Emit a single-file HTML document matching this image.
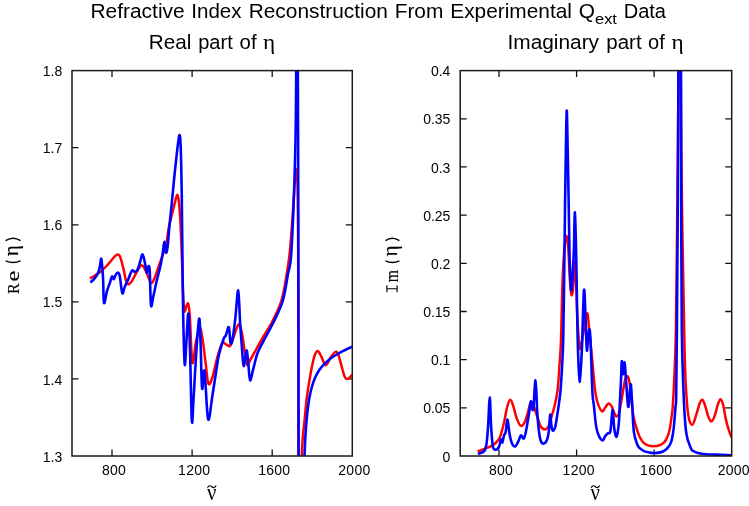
<!DOCTYPE html>
<html><head><meta charset="utf-8"><style>
html,body{margin:0;padding:0;background:#fff;}
svg{display:block;}
svg{will-change:transform;}
</style></head><body>
<svg width="749" height="506" viewBox="0 0 749 506">
<defs><clipPath id="cl"><rect x="72.0" y="70.6" width="280.3" height="385.4"/></clipPath>
<clipPath id="cr"><rect x="460.2" y="70.6" width="271.5" height="385.4"/></clipPath></defs>
<path d="M112.0,456.0v-6.5M112.0,70.6v6.5M499.0,456.0v-6.5M499.0,70.6v6.5M192.1,456.0v-6.5M192.1,70.6v6.5M576.6,456.0v-6.5M576.6,70.6v6.5M272.2,456.0v-6.5M272.2,70.6v6.5M654.1,456.0v-6.5M654.1,70.6v6.5M72.0,378.9h6.5M352.3,378.9h-6.5M72.0,301.8h6.5M352.3,301.8h-6.5M72.0,224.8h6.5M352.3,224.8h-6.5M72.0,147.7h6.5M352.3,147.7h-6.5M460.2,407.8h6.5M731.7,407.8h-6.5M460.2,359.6h6.5M731.7,359.6h-6.5M460.2,311.5h6.5M731.7,311.5h-6.5M460.2,263.3h6.5M731.7,263.3h-6.5M460.2,215.1h6.5M731.7,215.1h-6.5M460.2,166.9h6.5M731.7,166.9h-6.5M460.2,118.8h6.5M731.7,118.8h-6.5" stroke="#111" stroke-width="1.3" fill="none"/>
<g clip-path="url(#cl)" fill="none" stroke-linejoin="round" stroke-linecap="butt">
<path d="M89.9,278.4 C90.8,277.9 93.3,276.5 95.3,275.2 C97.3,273.9 99.6,272.5 101.7,270.7 C103.8,268.9 105.9,266.6 108.1,264.3 C110.2,262.0 113.0,258.2 114.6,256.6 C116.2,255.0 116.8,254.5 117.8,254.6 C118.8,254.7 119.3,254.7 120.3,257.2 C121.3,259.7 122.6,265.4 123.6,269.4 C124.6,273.4 125.2,278.5 126.1,281.0 C126.9,283.5 127.7,284.2 128.7,284.2 C129.7,284.2 130.8,282.5 131.9,281.0 C133.0,279.5 133.8,277.5 135.0,275.3 C136.2,273.1 138.1,269.5 139.2,267.8 C140.3,266.1 140.8,265.3 141.7,265.3 C142.5,265.3 143.3,266.1 144.3,267.8 C145.3,269.5 146.5,272.8 147.6,275.3 C148.7,277.8 149.9,282.3 151.0,282.9 C152.1,283.5 153.1,281.3 154.3,278.7 C155.6,276.1 157.1,270.9 158.5,267.0 C159.9,263.1 161.4,258.8 162.7,255.2 C164.0,251.5 165.1,249.5 166.1,245.1 C167.1,240.7 167.6,233.8 168.5,229.0 C169.4,224.2 170.4,220.3 171.5,216.0 C172.6,211.7 173.9,206.5 174.8,203.0 C175.7,199.5 176.4,195.1 177.1,194.8 C177.8,194.5 178.4,198.1 178.8,201.0 C179.2,203.9 179.4,206.3 179.8,212.0 C180.2,217.7 180.6,225.3 181.0,235.0 C181.4,244.7 181.9,259.2 182.3,270.0 C182.7,280.8 183.0,293.1 183.4,300.0 C183.8,306.9 184.1,310.5 184.6,311.5 C185.1,312.5 185.9,307.3 186.5,306.0 C187.1,304.7 187.6,302.2 188.2,303.8 C188.8,305.4 189.1,305.9 189.8,315.7 C190.5,325.5 191.3,357.8 192.3,362.4 C193.3,367.0 194.5,349.1 195.7,343.3 C196.9,337.5 198.4,328.1 199.6,327.5 C200.8,326.9 201.6,333.6 202.6,339.4 C203.6,345.1 204.5,354.6 205.5,362.0 C206.5,369.4 207.2,381.2 208.4,383.7 C209.6,386.2 211.0,381.4 212.5,377.0 C214.0,372.6 215.8,362.6 217.4,357.0 C219.0,351.4 220.8,345.3 222.3,343.3 C223.8,341.3 225.3,344.4 226.6,344.8 C227.9,345.2 228.8,347.0 229.9,346.0 C231.0,345.0 231.9,341.8 233.0,338.9 C234.1,335.9 235.5,330.7 236.6,328.3 C237.7,325.9 238.6,323.3 239.6,324.7 C240.6,326.1 241.6,331.8 242.5,336.5 C243.4,341.2 244.1,348.4 244.9,353.1 C245.7,357.8 246.2,363.9 247.2,364.9 C248.2,365.9 249.4,361.4 250.8,359.0 C252.2,356.6 254.0,353.4 255.5,350.7 C257.0,347.9 258.6,344.9 260.0,342.5 C261.4,340.1 261.6,339.6 263.7,336.0 C265.8,332.4 269.6,326.9 272.6,321.0 C275.6,315.1 279.1,308.3 281.5,300.4 C283.9,292.5 285.4,282.1 286.8,273.7 C288.2,265.3 289.0,260.6 290.0,250.0 C291.0,239.4 292.2,221.7 293.0,210.0 C293.8,198.3 294.4,186.8 295.0,180.0 C295.6,173.2 295.9,168.3 296.3,169.1 C296.7,169.9 297.2,169.8 297.5,185.0 C297.8,200.2 298.0,212.5 298.2,260.0 C298.4,307.5 298.4,435.0 298.5,470.0" stroke="#f00" stroke-width="2.5"/>
<path d="M301.3,470.0 C301.4,468.0 301.4,463.4 301.6,458.0 C301.9,452.6 302.3,444.1 302.8,437.4 C303.3,430.7 304.2,424.4 304.8,418.0 C305.4,411.6 305.9,405.1 306.7,398.7 C307.5,392.3 308.6,385.2 309.6,379.4 C310.6,373.6 311.6,368.0 312.5,363.9 C313.4,359.8 314.1,356.6 315.0,354.5 C315.9,352.4 316.7,350.6 317.8,351.0 C318.9,351.4 320.1,354.3 321.4,356.7 C322.7,359.1 324.2,365.2 325.8,365.2 C327.4,365.2 329.3,358.9 331.1,356.7 C332.9,354.4 335.0,351.1 336.5,351.7 C338.0,352.3 338.7,356.2 340.0,360.3 C341.3,364.4 343.2,373.2 344.5,376.3 C345.8,379.4 346.5,379.1 347.7,379.0 C348.9,378.9 350.6,376.2 351.6,375.4 C352.7,374.6 353.6,374.2 354.0,374.0" stroke="#f00" stroke-width="2.5"/>
<path d="M90.4,282.5 C91.0,281.9 92.8,280.6 94.0,279.1 C95.2,277.6 96.9,275.3 97.9,273.3 C98.9,271.3 99.2,269.3 99.8,266.9 C100.4,264.5 100.8,257.2 101.3,258.9 C101.8,260.6 102.5,269.8 103.0,277.1 C103.5,284.4 103.3,300.4 104.0,302.8 C104.7,305.2 105.9,294.7 106.9,291.3 C107.9,287.9 109.2,284.8 110.1,282.3 C110.9,279.8 111.4,277.0 112.0,276.5 C112.6,276.0 113.3,279.4 113.9,279.1 C114.5,278.8 115.1,275.7 115.8,274.6 C116.5,273.5 117.5,272.4 118.2,272.6 C118.9,272.8 119.0,272.4 119.7,275.8 C120.4,279.2 121.5,291.4 122.3,293.2 C123.1,295.0 123.7,289.3 124.8,286.8 C125.9,284.3 127.7,280.6 128.7,278.4 C129.6,276.2 129.9,274.9 130.5,273.5 C131.1,272.1 131.8,270.6 132.5,270.3 C133.2,270.1 134.2,272.1 135.0,272.0 C135.8,271.9 136.8,271.2 137.6,269.5 C138.4,267.8 139.3,264.4 140.1,261.9 C140.9,259.4 141.8,254.1 142.6,254.4 C143.4,254.7 144.4,260.5 145.1,263.6 C145.8,266.7 146.2,272.4 146.8,272.8 C147.4,273.2 148.0,266.2 148.5,266.1 C149.0,266.0 149.4,265.4 149.8,272.0 C150.2,278.6 150.4,301.6 151.0,305.5 C151.6,309.4 152.5,299.7 153.5,295.5 C154.5,291.3 155.7,285.1 156.8,280.4 C157.9,275.6 159.2,271.5 160.2,267.0 C161.2,262.5 162.0,257.7 162.7,253.5 C163.4,249.3 163.8,241.9 164.4,241.8 C165.0,241.7 165.5,252.1 166.1,252.7 C166.7,253.2 167.3,249.0 167.8,245.1 C168.3,241.2 168.4,236.7 169.1,229.3 C169.8,222.0 171.0,211.1 172.0,201.0 C173.0,190.9 174.0,179.3 175.2,168.5 C176.4,157.7 178.2,139.9 179.1,136.3 C180.0,132.7 180.3,137.7 180.7,146.7 C181.1,155.7 181.4,175.5 181.7,190.2 C181.9,204.9 182.0,218.4 182.2,235.0 C182.4,251.6 182.6,274.2 182.8,290.0 C183.0,305.8 183.2,317.5 183.5,330.0 C183.8,342.5 184.3,363.3 184.8,365.0 C185.3,366.7 185.9,348.6 186.5,340.0 C187.1,331.4 187.8,312.0 188.4,313.7 C189.0,315.4 189.4,332.1 190.0,350.0 C190.6,367.9 191.2,412.5 191.8,420.8 C192.4,429.1 192.8,410.1 193.5,400.0 C194.2,389.9 194.9,373.5 195.8,360.0 C196.7,346.5 198.2,322.5 199.0,319.2 C199.8,315.9 200.0,328.5 200.5,340.0 C201.0,351.5 201.4,383.2 202.1,388.4 C202.8,393.6 203.5,365.9 204.5,371.0 C205.5,376.1 206.8,415.2 208.1,419.2 C209.4,423.2 210.9,404.9 212.5,395.0 C214.1,385.1 216.7,367.4 217.9,360.0 C219.2,352.6 219.1,354.2 220.0,350.7 C220.9,347.2 222.6,341.4 223.6,338.9 C224.6,336.3 225.0,337.4 225.9,335.4 C226.8,333.4 228.0,325.7 228.8,327.1 C229.6,328.5 230.0,342.0 230.7,343.6 C231.4,345.2 232.2,340.8 233.0,336.5 C233.8,332.2 234.5,325.3 235.4,317.6 C236.3,309.9 237.4,289.6 238.2,290.4 C239.0,291.2 239.5,313.0 240.1,322.3 C240.7,331.6 241.2,338.7 241.8,346.0 C242.4,353.3 242.9,365.4 243.7,366.1 C244.5,366.8 245.7,350.5 246.5,350.3 C247.3,350.1 247.8,359.9 248.4,364.9 C249.0,369.9 249.3,379.5 250.1,380.3 C250.9,381.1 252.0,373.8 253.1,369.7 C254.2,365.6 255.6,359.0 256.7,355.5 C257.8,352.0 258.0,351.8 259.6,348.5 C261.2,345.2 263.5,341.1 266.2,336.0 C268.9,330.9 272.8,324.0 275.6,318.0 C278.4,312.0 280.9,307.4 283.0,300.0 C285.1,292.6 286.6,282.0 288.0,273.7 C289.4,265.4 290.3,270.6 291.5,250.0 C292.7,229.4 294.5,181.7 295.3,150.0 C296.1,118.3 296.1,75.0 296.3,60.0" stroke="#00f" stroke-width="2.6"/>
<path d="M297.8,60.0 C297.9,83.3 298.2,131.7 298.3,200.0 C298.4,268.3 298.6,425.0 298.6,470.0" stroke="#00f" stroke-width="2.6"/>
<path d="M304.0,469.8 C304.1,467.4 304.3,459.8 304.5,455.5 C304.7,451.2 304.8,448.1 305.0,444.2 C305.2,440.3 305.4,435.7 305.7,431.9 C305.9,428.1 306.2,424.7 306.5,421.2 C306.8,417.7 307.1,414.3 307.5,411.1 C307.9,407.9 308.3,404.7 308.7,402.0 C309.1,399.3 309.5,397.0 310.0,394.7 C310.5,392.4 311.0,390.2 311.5,388.2 C312.0,386.2 312.6,384.4 313.2,382.6 C313.8,380.8 314.5,379.1 315.2,377.5 C315.9,375.9 316.7,374.4 317.5,373.0 C318.3,371.6 319.1,370.4 320.0,369.1 C320.9,367.8 321.9,366.6 323.0,365.4 C324.1,364.2 325.2,363.0 326.5,361.9 C327.8,360.8 329.1,359.7 330.5,358.6 C331.9,357.5 333.4,356.5 335.0,355.5 C336.6,354.5 338.2,353.6 340.0,352.6 C341.8,351.6 343.7,350.7 346.0,349.6 C348.3,348.5 352.7,346.6 354.0,346.0" stroke="#00f" stroke-width="2.6"/>
</g>
<g clip-path="url(#cr)" fill="none" stroke-linejoin="round" stroke-linecap="butt">
<path d="M477.6,451.5 C478.7,451.1 482.0,449.7 484.2,448.8 C486.4,447.9 488.6,447.4 490.6,446.4 C492.6,445.3 494.5,444.1 496.1,442.5 C497.7,440.9 498.7,440.2 500.0,436.9 C501.3,433.6 502.8,427.7 504.0,422.7 C505.2,417.7 506.1,410.7 507.2,406.9 C508.2,403.1 509.2,399.8 510.3,399.8 C511.4,399.8 512.5,403.9 513.5,406.9 C514.5,409.9 515.4,414.9 516.6,418.0 C517.8,421.1 519.3,425.0 520.6,425.8 C521.9,426.6 523.3,424.8 524.5,422.7 C525.7,420.6 526.6,416.6 527.7,413.2 C528.8,409.8 529.9,403.2 530.9,402.1 C531.9,401.1 533.0,404.5 534.0,406.9 C535.0,409.3 536.1,413.2 537.2,416.4 C538.3,419.5 539.2,423.6 540.4,425.8 C541.6,428.0 543.2,429.2 544.5,429.4 C545.8,429.6 546.9,429.2 548.1,427.0 C549.3,424.8 550.5,419.9 551.6,416.3 C552.7,412.8 553.6,410.1 554.6,405.7 C555.6,401.3 556.8,396.8 557.6,390.0 C558.4,383.2 558.9,373.4 559.5,365.0 C560.1,356.6 560.5,354.0 561.0,339.8 C561.5,325.6 562.0,295.3 562.6,280.0 C563.2,264.7 563.8,255.4 564.5,248.0 C565.2,240.6 566.0,235.7 566.6,235.8 C567.2,235.9 567.8,241.3 568.3,248.7 C568.8,256.1 569.4,272.3 569.9,280.0 C570.4,287.7 570.9,293.3 571.4,294.8 C571.9,296.3 572.4,294.5 573.0,289.0 C573.6,283.5 574.6,257.2 575.3,262.0 C576.0,266.8 576.6,303.6 577.4,318.0 C578.2,332.4 579.1,345.9 580.0,348.7 C580.9,351.5 581.8,340.9 583.0,335.0 C584.2,329.1 586.0,314.8 587.0,313.5 C588.0,312.2 588.1,319.1 589.0,327.4 C589.9,335.6 591.5,352.9 592.5,363.0 C593.5,373.1 594.0,381.3 594.8,387.8 C595.6,394.3 596.2,398.1 597.4,402.0 C598.6,405.9 600.6,410.4 601.9,411.3 C603.2,412.2 604.3,408.6 605.4,407.3 C606.5,406.0 607.5,403.6 608.6,403.5 C609.7,403.4 610.8,404.8 611.7,406.4 C612.7,408.0 613.5,411.3 614.3,413.0 C615.0,414.7 615.4,416.4 616.2,416.4 C617.0,416.4 618.1,416.0 619.0,413.0 C619.9,410.0 620.8,404.0 621.8,398.4 C622.8,392.8 624.2,383.2 625.2,379.5 C626.2,375.8 626.8,375.7 627.5,376.3 C628.2,376.9 629.0,379.3 629.6,383.0 C630.2,386.7 630.8,392.8 631.4,398.4 C632.0,404.0 632.5,411.0 633.5,416.4 C634.5,421.8 636.3,427.5 637.4,431.0 C638.5,434.5 639.0,435.6 640.0,437.5 C641.0,439.4 642.1,441.3 643.4,442.6 C644.7,443.9 646.3,444.8 648.0,445.4 C649.7,446.0 651.9,446.2 653.8,446.2 C655.7,446.2 657.8,445.8 659.5,445.2 C661.2,444.6 662.8,443.8 664.1,442.4 C665.4,441.0 666.5,439.0 667.5,436.7 C668.5,434.4 669.1,431.9 669.8,428.7 C670.5,425.4 671.0,420.8 671.5,417.2 C672.0,413.6 672.3,412.9 672.7,406.9 C673.1,400.9 673.6,394.1 674.1,381.3 C674.6,368.5 675.4,360.2 675.9,330.0 C676.4,299.8 676.9,245.0 677.4,200.0 C677.9,155.0 678.4,83.3 678.6,60.0" stroke="#f00" stroke-width="2.5"/>
<path d="M680.6,60.0 C680.8,83.3 681.3,155.0 681.9,200.0 C682.5,245.0 683.6,299.8 684.2,330.0 C684.8,360.2 684.9,367.2 685.6,381.3 C686.3,395.4 687.1,407.3 688.2,414.6 C689.3,421.9 690.8,424.9 692.1,424.9 C693.5,424.9 695.1,418.2 696.3,414.7 C697.5,411.2 698.5,406.2 699.5,403.7 C700.5,401.2 701.4,399.4 702.3,399.7 C703.2,400.0 704.0,402.5 705.0,405.3 C706.0,408.1 707.2,413.6 708.2,416.3 C709.2,419.0 710.2,421.4 711.3,421.4 C712.3,421.4 713.4,419.2 714.5,416.3 C715.6,413.4 717.1,406.5 718.1,403.7 C719.1,400.9 719.9,399.0 720.8,399.3 C721.6,399.6 722.3,401.7 723.2,405.3 C724.1,408.9 725.2,416.6 726.3,421.1 C727.3,425.6 728.6,429.5 729.5,432.1 C730.4,434.7 730.8,435.5 731.4,436.8 C732.0,438.1 732.7,439.5 733.0,440.0" stroke="#f00" stroke-width="2.5"/>
<path d="M477.9,454.0 C478.9,453.5 482.8,452.9 484.2,451.1 C485.6,449.3 485.9,447.7 486.6,443.2 C487.3,438.7 487.7,431.9 488.2,424.3 C488.7,416.7 489.3,397.4 489.8,397.4 C490.3,397.4 490.5,416.1 491.0,424.3 C491.5,432.5 492.0,442.2 492.9,446.4 C493.8,450.6 495.1,449.6 496.1,449.6 C497.2,449.6 498.4,448.1 499.2,446.4 C500.0,444.7 500.3,439.9 500.8,439.3 C501.3,438.7 501.9,443.2 502.4,442.5 C502.9,441.8 503.5,437.0 504.0,435.3 C504.5,433.6 505.0,434.8 505.6,432.2 C506.2,429.6 506.9,419.2 507.5,419.5 C508.1,419.8 508.8,429.9 509.5,433.8 C510.2,437.8 511.0,441.1 511.9,443.2 C512.8,445.3 514.0,446.6 515.1,446.4 C516.2,446.1 517.2,443.5 518.2,441.7 C519.2,439.9 520.0,435.8 520.9,435.3 C521.8,434.8 522.9,439.3 523.8,438.5 C524.7,437.7 525.2,435.1 526.1,430.6 C527.0,426.1 528.5,416.5 529.3,411.6 C530.1,406.7 530.2,401.6 530.9,401.3 C531.5,401.0 532.4,413.1 533.2,409.6 C534.0,406.1 534.8,380.0 535.5,380.3 C536.2,380.6 536.7,403.3 537.2,411.6 C537.8,419.9 538.2,425.3 538.8,430.0 C539.3,434.7 539.8,437.7 540.5,440.0 C541.2,442.3 542.2,443.6 543.3,443.6 C544.4,443.6 546.0,442.3 546.9,440.1 C547.8,437.9 548.3,434.9 548.9,430.6 C549.5,426.4 549.8,415.6 550.2,414.6 C550.6,413.6 550.9,421.9 551.3,424.6 C551.7,427.3 552.1,430.2 552.8,430.6 C553.4,431.0 554.4,430.0 555.2,427.0 C556.0,424.0 556.9,417.2 557.6,412.8 C558.3,408.4 558.8,405.1 559.3,400.9 C559.8,396.7 560.1,397.5 560.8,387.4 C561.4,377.2 562.6,362.9 563.2,340.0 C563.8,317.1 564.1,276.7 564.5,250.0 C564.9,223.3 565.0,203.2 565.4,180.0 C565.8,156.8 566.3,114.1 566.7,110.8 C567.1,107.5 567.5,143.5 567.9,160.0 C568.2,176.5 568.5,192.0 568.8,210.0 C569.1,228.0 569.4,254.6 569.9,268.0 C570.4,281.4 570.9,291.3 571.5,290.3 C572.1,289.3 572.9,268.7 573.3,262.0 C573.7,255.3 573.6,258.3 573.9,250.0 C574.2,241.7 574.5,211.5 574.9,212.4 C575.3,213.3 575.8,238.9 576.2,255.2 C576.6,271.5 576.8,294.2 577.1,310.0 C577.4,325.8 577.6,338.0 578.0,350.0 C578.4,362.0 578.9,381.7 579.5,381.9 C580.1,382.1 581.2,363.9 581.8,351.1 C582.4,338.3 582.9,315.2 583.3,305.0 C583.7,294.8 583.9,287.5 584.3,290.0 C584.7,292.5 585.2,309.9 585.6,320.0 C586.0,330.1 586.5,348.0 586.9,350.5 C587.3,353.0 587.8,338.5 588.3,335.0 C588.8,331.5 589.2,328.3 589.6,329.5 C590.0,330.7 590.3,336.1 590.6,342.0 C590.9,347.9 591.1,356.4 591.4,365.0 C591.7,373.6 592.1,386.9 592.5,393.7 C592.9,400.5 593.2,399.8 593.9,405.6 C594.6,411.4 595.3,422.9 596.6,428.7 C597.9,434.5 600.4,439.0 601.9,440.2 C603.4,441.4 604.4,437.0 605.4,435.8 C606.4,434.6 607.3,433.9 608.1,433.1 C608.9,432.4 609.8,434.4 610.4,431.3 C611.0,428.2 611.6,417.8 612.0,414.4 C612.4,411.0 612.5,408.5 612.9,410.9 C613.3,413.3 613.7,424.4 614.3,428.7 C614.9,433.0 615.9,437.6 616.6,436.7 C617.4,435.8 618.2,429.4 618.8,423.3 C619.4,417.2 619.6,407.6 620.0,400.0 C620.4,392.4 620.8,384.2 621.1,377.7 C621.4,371.2 621.5,361.7 621.8,361.1 C622.1,360.5 622.6,374.0 623.1,374.2 C623.6,374.4 624.0,361.8 624.5,362.4 C625.0,363.0 625.3,370.3 625.9,377.7 C626.5,385.1 627.5,405.0 628.2,406.8 C628.9,408.6 629.6,392.3 630.1,388.7 C630.6,385.1 630.7,383.0 631.0,385.3 C631.3,387.6 631.6,394.8 632.1,402.6 C632.6,410.4 633.0,425.2 633.9,432.2 C634.8,439.2 636.4,442.0 637.4,444.7 C638.4,447.4 638.8,447.3 640.0,448.4 C641.2,449.5 642.7,450.6 644.6,451.4 C646.5,452.1 649.4,452.6 651.5,452.9 C653.6,453.1 655.3,453.1 657.2,452.9 C659.1,452.7 661.2,452.3 662.9,451.5 C664.6,450.7 666.1,449.5 667.5,448.0 C668.9,446.5 670.0,445.0 671.0,442.4 C672.0,439.8 672.6,435.7 673.2,432.1 C673.8,428.5 674.0,424.8 674.4,420.6 C674.8,416.4 675.2,411.0 675.5,406.9 C675.8,402.8 676.0,408.8 676.2,396.0 C676.4,383.2 676.6,362.7 676.9,330.0 C677.2,297.3 677.5,245.0 677.8,200.0 C678.1,155.0 678.4,83.3 678.5,60.0" stroke="#00f" stroke-width="2.6"/>
<path d="M681.0,60.0 C681.0,83.3 681.1,155.0 681.2,200.0 C681.3,245.0 681.4,297.6 681.8,330.0 C682.2,362.4 682.9,377.0 683.6,394.1 C684.3,411.2 685.0,423.6 686.2,432.6 C687.4,441.6 689.6,444.9 690.8,448.0 C692.0,451.1 692.0,450.2 693.2,451.0 C694.4,451.8 695.8,452.5 697.9,453.0 C700.0,453.5 701.8,453.9 705.8,454.2 C709.8,454.5 717.3,454.6 721.6,454.8 C725.9,455.0 729.5,455.1 731.4,455.2 C733.3,455.3 732.7,455.3 733.0,455.3" stroke="#00f" stroke-width="2.6"/>
</g>
<rect x="72.0" y="70.6" width="280.3" height="385.4" fill="none" stroke="#1a1a1a" stroke-width="1.5"/>
<rect x="460.2" y="70.6" width="271.5" height="385.4" fill="none" stroke="#1a1a1a" stroke-width="1.5"/>
<g font-family="Liberation Sans, sans-serif" font-size="14" fill="#000"><text x="114.1" y="474.9" text-anchor="middle" letter-spacing="0.25">800</text><text x="501.1" y="474.9" text-anchor="middle" letter-spacing="0.25">800</text><text x="194.2" y="474.9" text-anchor="middle" letter-spacing="0.25">1200</text><text x="578.7" y="474.9" text-anchor="middle" letter-spacing="0.25">1200</text><text x="274.3" y="474.9" text-anchor="middle" letter-spacing="0.25">1600</text><text x="656.2" y="474.9" text-anchor="middle" letter-spacing="0.25">1600</text><text x="354.4" y="474.9" text-anchor="middle" letter-spacing="0.25">2000</text><text x="733.8" y="474.9" text-anchor="middle" letter-spacing="0.25">2000</text><text x="62.2" y="461.6" text-anchor="end">1.3</text><text x="62.2" y="384.5" text-anchor="end">1.4</text><text x="62.2" y="307.4" text-anchor="end">1.5</text><text x="62.2" y="230.4" text-anchor="end">1.6</text><text x="62.2" y="153.3" text-anchor="end">1.7</text><text x="62.2" y="76.2" text-anchor="end">1.8</text><text x="450.4" y="461.6" text-anchor="end">0</text><text x="450.4" y="413.4" text-anchor="end">0.05</text><text x="450.4" y="365.2" text-anchor="end">0.1</text><text x="450.4" y="317.1" text-anchor="end">0.15</text><text x="450.4" y="268.9" text-anchor="end">0.2</text><text x="450.4" y="220.7" text-anchor="end">0.25</text><text x="450.4" y="172.5" text-anchor="end">0.3</text><text x="450.4" y="124.4" text-anchor="end">0.35</text><text x="450.4" y="76.2" text-anchor="end">0.4</text></g>
<g fill="#000"><text transform="translate(90.38,18.10) scale(1.0480,1)" font-size="20" font-family="Liberation Sans, sans-serif">Refractive</text><text transform="translate(191.30,18.10) scale(1.0285,1)" font-size="20" font-family="Liberation Sans, sans-serif">Index</text><text transform="translate(248.69,18.10) scale(1.0440,1)" font-size="20" font-family="Liberation Sans, sans-serif">Reconstruction</text><text transform="translate(394.69,18.10) scale(1.0435,1)" font-size="20" font-family="Liberation Sans, sans-serif">From</text><text transform="translate(450.29,18.10) scale(1.0427,1)" font-size="20" font-family="Liberation Sans, sans-serif">Experimental</text><text transform="translate(578.71,18.10) scale(1.0401,1)" font-size="20" font-family="Liberation Sans, sans-serif">Q</text><text transform="translate(595.00,23.70) scale(1.0954,1)" font-size="15" font-family="Liberation Sans, sans-serif">ext</text><text transform="translate(623.66,18.10) scale(1.0023,1)" font-size="20" font-family="Liberation Sans, sans-serif">Data</text><text transform="translate(148.80,48.80) scale(1.0353,1)" font-size="20" font-family="Liberation Sans, sans-serif">Real</text><text transform="translate(198.21,48.80) scale(1.0022,1)" font-size="20" font-family="Liberation Sans, sans-serif">part</text><text transform="translate(239.54,48.80) scale(1.0208,1)" font-size="20" font-family="Liberation Sans, sans-serif">of</text><text transform="translate(263.04,48.80) scale(1.0588,1)" font-size="22" font-family="Liberation Serif, serif">η</text><text transform="translate(507.58,48.80) scale(1.0416,1)" font-size="20" font-family="Liberation Sans, sans-serif">Imaginary</text><text transform="translate(606.28,48.80) scale(1.0264,1)" font-size="20" font-family="Liberation Sans, sans-serif">part</text><text transform="translate(648.06,48.80) scale(1.0019,1)" font-size="20" font-family="Liberation Sans, sans-serif">of</text><text transform="translate(671.44,48.80) scale(1.0588,1)" font-size="22" font-family="Liberation Serif, serif">η</text></g><g font-family="Liberation Serif, serif" fill="#000"><g stroke="#000" stroke-width="0.15"><text transform="translate(18.50,293.96) rotate(-90) scale(0.931,1)" font-size="17.2">R</text><text transform="translate(18.50,281.45) rotate(-90) scale(1.351,1)" font-size="18">e</text><text transform="translate(18.20,256.33) rotate(-90) scale(1.005,1)" font-size="21">η</text><text transform="translate(397.80,282.13) rotate(-90) scale(0.862,1)" font-size="18">m</text><text transform="translate(397.20,256.53) rotate(-90) scale(1.015,1)" font-size="21">η</text></g>
<text x="211.8" y="500.3" font-size="23.5" text-anchor="middle" transform="translate(211.8,0) scale(0.88,1) translate(-211.8,0)">ν</text>
<text x="595.3" y="500.3" font-size="23.5" text-anchor="middle" transform="translate(595.3,0) scale(0.88,1) translate(-595.3,0)">ν</text>
</g><path d="M5.6,240.6 Q13.1,235.8 20.5,240.6 M5.6,260.8 Q13.1,264.2 20.5,260.8" stroke="#000" stroke-width="1.35" fill="none"/><path d="M385.5,240.6 Q392.4,235.8 399.4,240.6 M385.5,260.8 Q392.4,264.2 399.4,260.8" stroke="#000" stroke-width="1.35" fill="none"/><path d="M386.6,288.7H397.4M386.9,285.2V292.3M397.1,285.2V292.3" stroke="#000" stroke-width="1.15" fill="none"/><path d="M207.40,487.70 C209.16,485.10 210.48,485.50 211.80,486.70 S214.44,488.30 216.20,485.50" stroke="#000" stroke-width="1.15" fill="none"/><path d="M591.00,487.70 C592.76,485.10 594.08,485.50 595.40,486.70 S598.04,488.30 599.80,485.50" stroke="#000" stroke-width="1.15" fill="none"/>
</svg>
</body></html>
